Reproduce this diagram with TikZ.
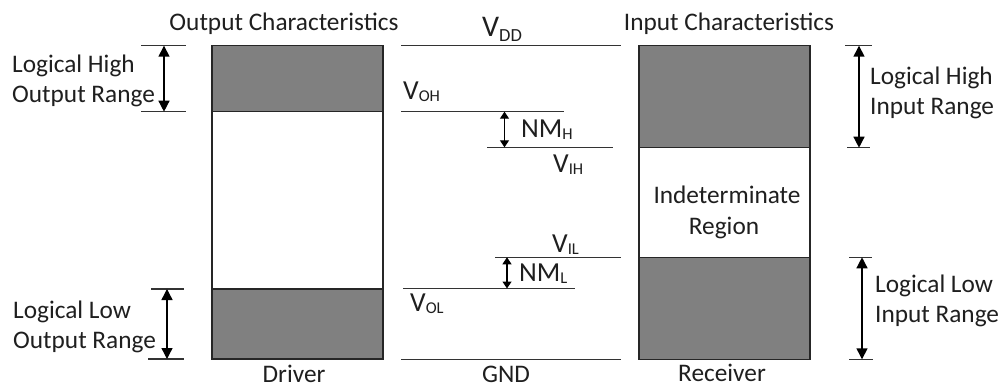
\documentclass[tikz,border=0pt]{standalone}
\usepackage{fontspec}
\setmainfont{Carlito}
\usetikzlibrary{arrows.meta}
\newcommand\vsub[2]{#1\raisebox{-2pt}{\fontsize{16.5}{16.5}\selectfont #2}}
\begin{document}
\begin{tikzpicture}[x=1pt,y=-1pt,
  txt/.style={inner sep=0pt,font=\fontsize{25.3}{26}\selectfont,text=black!88},
  vtxt/.style={inner sep=0pt,font=\fontsize{27.5}{28}\selectfont,text=black!88},
  lvl/.style={line width=1.3pt,draw=black!80},
  tick/.style={line width=1.1pt,draw=black!80},
  box/.style={line width=1.6pt,draw=black!85},
  band/.style={fill=black!50,draw=black!85,line width=1.6pt},
  dimbig/.style={line width=1.4pt,{Triangle[length=11pt,width=11pt]}-{Triangle[length=11pt,width=11pt]}},
  dimsmall/.style={line width=1.3pt,{Triangle[length=7pt,width=9pt]}-{Triangle[length=7pt,width=9pt]}}]
\useasboundingbox (0,0) rectangle (1000,387);
\fill[white] (0,0) rectangle (1000,387);

% Driver box
\draw[band] (212,45.7) rectangle (383,111.7);
\draw[band] (212,289) rectangle (383,359);
\draw[box] (212,45.7) rectangle (383,359);
% Receiver box
\draw[band] (639,45.7) rectangle (810,147.7);
\draw[band] (639,257.3) rectangle (810,359.3);
\draw[box] (639,45.7) rectangle (810,359.3);

% titles
\node[txt,anchor=base] (outc) at (284,31) {Output Characteristics};
\node[txt,anchor=base] (inc) at (729,31) {Input Characteristics};
\node[txt,anchor=base] (drv) at (294,382) {Driver};
\node[txt,anchor=base] (gnd) at (506,382) {GND};
\node[txt,anchor=base] (rcv) at (722,381) {Receiver};
\node[txt,anchor=base] (ind1) at (727,204) {Indeterminate};
\node[txt,anchor=base] (ind2) at (724,234) {Region};

% level lines
\coordinate (vdd1) at (401,45.7); \coordinate (vdd2) at (621,45.7);
\coordinate (voh1) at (401,111.7); \coordinate (voh2) at (564,111.7);
\coordinate (vih1) at (487,147.3); \coordinate (vih2) at (613,147.3);
\coordinate (vil1) at (495,257.3); \coordinate (vil2) at (621,257.3);
\coordinate (vol1) at (403,288.5); \coordinate (vol2) at (575,288.5);
\coordinate (gnd1) at (401,359.3); \coordinate (gnd2) at (621,359.3);
\draw[lvl] (vdd1) -- (vdd2);
\draw[lvl] (voh1) -- (voh2);
\draw[lvl] (vih1) -- (vih2);
\draw[lvl] (vil1) -- (vil2);
\draw[lvl] (vol1) -- (vol2);
\draw[lvl] (gnd1) -- (gnd2);

% level labels
\node[inner sep=0pt,anchor=base west,text=black!88,font=\fontsize{30}{30}\selectfont] (lvdd) at (482,37) {V\raisebox{-5pt}{\fontsize{18.5}{18.5}\selectfont DD}};
\node[vtxt,anchor=base west] (lvoh) at (403,100) {\vsub{V}{OH}};
\node[vtxt,anchor=base west] (lnmh) at (521,138) {\vsub{NM}{H}};
\node[vtxt,anchor=base west] (lvih) at (553,173) {\vsub{V}{IH}};
\node[vtxt,anchor=base west] (lvil) at (552,252) {\vsub{V}{IL}};
\node[vtxt,anchor=base west] (lnml) at (519,281) {\vsub{NM}{L}};
\node[vtxt,anchor=base west] (lvol) at (410,311) {\vsub{V}{OL}};

% noise margin arrows
\coordinate (nmh1) at (504.5,111.7); \coordinate (nmh2) at (504.5,147.3);
\coordinate (nml1) at (507,257.3); \coordinate (nml2) at (507,288.5);
\draw[dimsmall] (nmh1) -- (nmh2);
\draw[dimsmall] (nml1) -- (nml2);

% left dimension marks
\coordinate (lh1a) at (141,45.7); \coordinate (lh1b) at (186,45.7);
\coordinate (lh2a) at (141,111.7); \coordinate (lh2b) at (186,111.7);
\draw[tick] (lh1a) -- (lh1b);
\draw[tick] (lh2a) -- (lh2b);
\coordinate (lha) at (164,45.7); \coordinate (lhb) at (164,111.7);
\draw[dimbig] (lha) -- (lhb);
\coordinate (ll1a) at (151,289); \coordinate (ll1b) at (184,289);
\coordinate (ll2a) at (148,359); \coordinate (ll2b) at (184,359);
\draw[tick] (ll1a) -- (ll1b);
\draw[tick] (ll2a) -- (ll2b);
\coordinate (lla) at (167,289); \coordinate (llb) at (167,359);
\draw[dimbig] (lla) -- (llb);

% right dimension marks
\coordinate (rh1a) at (845,45.7); \coordinate (rh1b) at (872,45.7);
\coordinate (rh2a) at (847,147.7); \coordinate (rh2b) at (870,147.7);
\draw[tick] (rh1a) -- (rh1b);
\draw[tick] (rh2a) -- (rh2b);
\coordinate (rha) at (859,45.7); \coordinate (rhb) at (859,147.7);
\draw[dimbig] (rha) -- (rhb);
\coordinate (rl1a) at (849,257.3); \coordinate (rl1b) at (872,257.3);
\coordinate (rl2a) at (849,359.3); \coordinate (rl2b) at (873,359.3);
\draw[tick] (rl1a) -- (rl1b);
\draw[tick] (rl2a) -- (rl2b);
\coordinate (rla) at (862,257.3); \coordinate (rlb) at (862,359.3);
\draw[dimbig] (rla) -- (rlb);

% range labels
\node[txt,anchor=base west] (lhl1) at (12,73) {Logical High};
\node[txt,anchor=base west] (lhl2) at (12,103) {Output Range};
\node[txt,anchor=base west] (lll1) at (13,318) {Logical Low};
\node[txt,anchor=base west] (lll2) at (13,348) {Output Range};
\node[txt,anchor=base west] (rhl1) at (870,85) {Logical High};
\node[txt,anchor=base west] (rhl2) at (870,115) {Input Range};
\node[txt,anchor=base west] (rll1) at (875,292) {Logical Low};
\node[txt,anchor=base west] (rll2) at (875,322) {Input Range};
\end{tikzpicture}
\end{document}
